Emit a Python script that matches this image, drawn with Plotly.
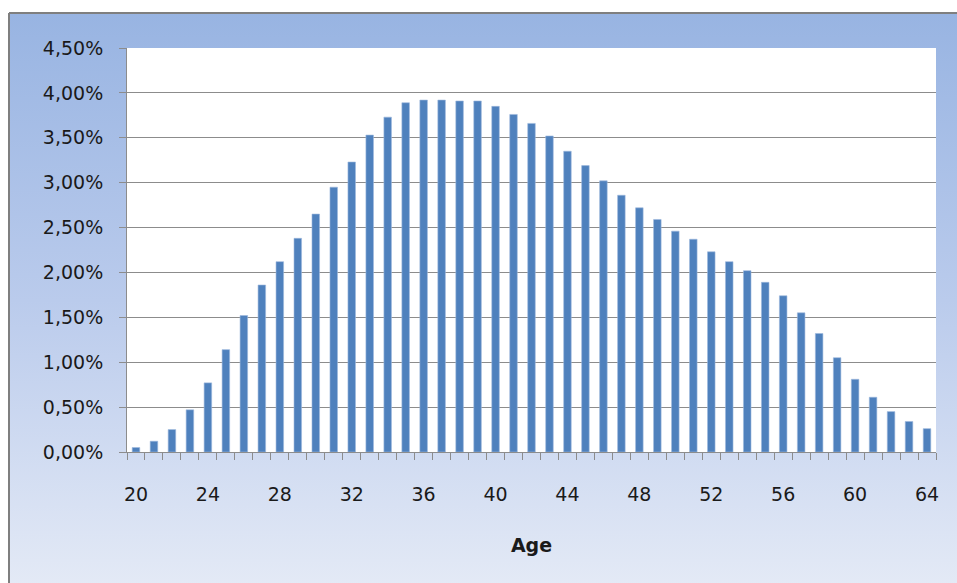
import base64
import plotly.graph_objects as go

ages = list(range(20, 65))
shares = [0.05, 0.12, 0.25, 0.47, 0.77, 1.14, 1.52, 1.86, 2.12, 2.38,
          2.65, 2.95, 3.23, 3.53, 3.73, 3.89, 3.92, 3.92, 3.91, 3.91,
          3.85, 3.76, 3.66, 3.52, 3.35, 3.19, 3.02, 2.86, 2.72, 2.59,
          2.46, 2.37, 2.23, 2.12, 2.02, 1.89, 1.74, 1.55, 1.32, 1.05,
          0.81, 0.61, 0.45, 0.34, 0.26]
x_tick_vals = list(range(20, 65, 4))
x_title = "Age"

values = [v / 100 for v in shares]

W, H = 957, 583
ml, mr, mt, mb = 127, 21, 48, 131
pw, ph = W - ml - mr, H - mt - mb

def px_x(p):
    return (p - ml) / pw

def px_y(p):
    return (H - mb - p) / ph

svg = ('<svg xmlns="http://www.w3.org/2000/svg" width="100" height="100" preserveAspectRatio="none">'
       '<defs><linearGradient id="g" x1="0" y1="0" x2="0" y2="1">'
       '<stop offset="0" stop-color="#98B4E2"/>'
       '<stop offset="0.5" stop-color="#BACBEC"/>'
       '<stop offset="1" stop-color="#E4EAF6"/>'
       '</linearGradient></defs>'
       '<rect width="100" height="100" fill="url(#g)"/></svg>')
src = "data:image/svg+xml;base64," + base64.b64encode(svg.encode()).decode()

fig = go.Figure()
fig.add_trace(go.Bar(x=ages, y=values, marker=dict(color="#4F81BD", line=dict(width=0.6, color="#9DB8DE")),
                     hoverinfo="x+y"))

x0f, y1f = px_x(9), px_y(13)
x1f, y0f = px_x(W + 5), px_y(H + 5)

fig.update_layout(
    width=W, height=H,
    margin=dict(l=ml, r=mr, t=mt, b=mb),
    paper_bgcolor="white",
    plot_bgcolor="white",
    separators=",.",
    bargap=0.58,
    showlegend=False,
    font=dict(family="DejaVu Sans, Verdana, sans-serif", size=19, color="#1a1a1a"),
    images=[dict(source=src, xref="paper", yref="paper", x=x0f, y=y1f,
                 sizex=x1f - x0f, sizey=y1f - y0f, sizing="stretch",
                 xanchor="left", yanchor="top", layer="below")],
    shapes=[
        dict(type="rect", xref="paper", yref="paper", x0=0, x1=1, y0=0, y1=1,
             fillcolor="white", line=dict(width=0), layer="below"),
        dict(type="line", xref="paper", yref="paper", x0=x0f, x1=x1f, y0=y1f, y1=y1f,
             line=dict(color="#7f7f7f", width=2), layer="below"),
        dict(type="line", xref="paper", yref="paper", x0=x0f, x1=x0f, y0=y0f, y1=y1f,
             line=dict(color="#7f7f7f", width=2), layer="below"),
    ],
    xaxis=dict(
        range=[19.5, 64.5],
        tickmode="array", tickvals=x_tick_vals, ticktext=[str(v) for v in x_tick_vals],
        ticks="", showgrid=False, zeroline=False,
        showline=True, linecolor="#8c8c8c", linewidth=1,
        ticklabelstandoff=25,
        minor=dict(tickmode="linear", tick0=19.5, dtick=1, ticks="outside",
                   ticklen=7, tickcolor="#8c8c8c", tickwidth=1, showgrid=False),
        title=dict(text="<b>" + x_title + "</b>", font=dict(size=19), standoff=34),
    ),
    yaxis=dict(
        range=[0, 0.045], dtick=0.005, tick0=0, tickformat=".2%",
        showgrid=True, gridcolor="#8c8c8c", gridwidth=1,
        zeroline=False, showline=True, linecolor="#8c8c8c", linewidth=1,
        ticks="outside", ticklen=7, tickcolor="#8c8c8c",
        ticklabelstandoff=12,
    ),
)

fig.write_html("out.html")
